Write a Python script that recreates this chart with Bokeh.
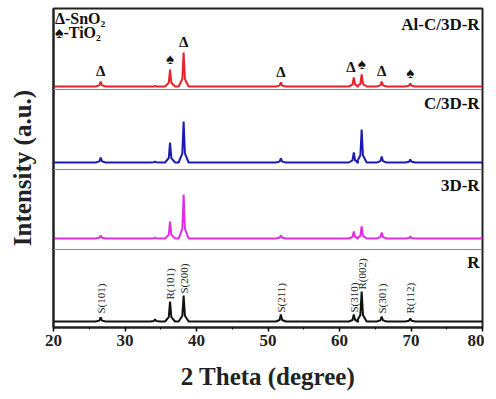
import numpy as np
from bokeh.plotting import figure
from bokeh.models import ColumnDataSource, FixedTicker, Range1d, Span
from bokeh.core.properties import value
from bokeh.embed import file_html
from bokeh.resources import INLINE

# ---- data (peak positions in 2-theta, peak heights in a.u.) ----
two_theta = [26.6, 34.2, 36.3, 38.2, 51.8, 62.0, 63.1, 65.9, 69.9]
int_al_c = [5, 0.5, 17, 34, 4, 9, 12, 5, 3]
int_c = [5, 1, 20, 41, 4, 10, 33, 6, 3]
int_3d = [3, 1, 17, 44, 3, 7, 12, 6, 2]
int_r = [4, 2, 20, 26, 7, 7, 30, 5, 3]
series_names = ["Al-C/3D-R", "C/3D-R", "3D-R", "R"]
r_hkl = ["S(101)", "", "R(101)", "S(200)", "S(211)", "S(310)", "R(002)", "S(301)", "R(112)"]
marker_theta = [26.6, 36.3, 38.2, 51.8, 61.6, 63.1, 65.9, 69.9]
marker_peak = [0, 2, 3, 4, 5, 6, 7, 8]
marker_sym = ["Δ", "♠", "Δ", "Δ", "Δ", "♠", "Δ", "♠"]
x_ticks = [20, 30, 40, 50, 60, 70, 80]

# ---- layout constants ----
offsets = [241, 165, 89, 6]
separators = [238, 158, 78]
name_y = [303, 224, 142, 65]
colors = ["#e8232b", "#1c1cb0", "#e02ee0", "#111111"]
FONT = value("Liberation Serif")

p = figure(frame_width=429, frame_height=319, output_backend="svg", toolbar_location=None,
           x_range=Range1d(20, 80), y_range=Range1d(0, 319),
           min_border_left=53, min_border_top=8, min_border_right=2, min_border_bottom=56)
p.grid.visible = False
p.outline_line_color = "#222222"
p.outline_line_width = 2
p.background_fill_color = "white"
p.border_fill_color = "white"


def profile(heights, base):
    xs, ys = [20.0], [base]
    for t, h in zip(two_theta, heights):
        xs += [t - 0.7, t - 0.18, t, t + 0.18, t + 0.7]
        ys += [base, base + 0.22 * h, base + h, base + 0.22 * h, base]
    xs.append(80.0)
    ys.append(base)
    return xs, ys


for heights, base, c in zip([int_al_c, int_c, int_3d, int_r], offsets, colors):
    xs, ys = profile(heights, base)
    p.line(xs, ys, line_color=c, line_width=2)

for s in separators:
    p.add_layout(Span(location=s, dimension="width", line_color="#8a8a8a", line_width=1))

# sample names
p.text(x=[79.6] * 4, y=name_y, text=series_names, text_align="right", text_baseline="middle",
       text_font=FONT, text_font_style="bold", text_font_size="17px", text_color="#111111")

# phase legend
p.text(x=[20.2, 20.2], y=[309, 295], text=["Δ-SnO₂", "♠-TiO₂"], text_align="left",
       text_baseline="middle", text_font=FONT, text_font_style="bold", text_font_size="16px",
       text_color="#111111")

# markers over Al-C/3D-R peaks
my = [offsets[0] + int_al_c[i] + 3 for i in marker_peak]
p.text(x=marker_theta, y=my, text=marker_sym, text_align="center", text_baseline="bottom",
       text_font=FONT, text_font_style="bold", text_font_size="15px", text_color="#111111")

# hkl labels over R peaks
lx, ly, lt = [], [], []
for t, h, lab in zip(two_theta, int_r, r_hkl):
    if lab:
        lx.append(t)
        ly.append(offsets[3] + max(h, 6) + 2)
        lt.append(lab)
p.text(x=lx, y=ly, text=lt, angle=np.pi / 2, text_align="left", text_baseline="middle",
       text_font=FONT, text_font_size="11px", text_color="#222222")

# axes
p.xaxis.ticker = FixedTicker(ticks=x_ticks, minor_ticks=[25, 35, 45, 55, 65, 75])
p.xaxis.axis_label = "2 Theta (degree)"
p.xaxis.axis_label_text_font = "Liberation Serif"
p.xaxis.axis_label_text_font_style = "bold"
p.xaxis.axis_label_text_font_size = "25px"
p.xaxis.axis_label_text_color = "#222222"
p.xaxis.axis_label_standoff = 14
p.xaxis.major_label_text_font = "Liberation Serif"
p.xaxis.major_label_text_font_style = "bold"
p.xaxis.major_label_text_font_size = "17px"
p.xaxis.major_label_text_color = "#222222"
p.xaxis.major_label_standoff = 3
p.xaxis.major_tick_in = 0
p.xaxis.major_tick_out = 4
p.xaxis.minor_tick_in = 0
p.xaxis.minor_tick_out = 2
p.xaxis.axis_line_color = "#222222"
p.xaxis.axis_line_width = 2
p.xaxis.major_tick_line_width = 1.5

p.yaxis.ticker = FixedTicker(ticks=[])
p.yaxis.major_label_text_font_size = "0px"
p.yaxis.major_tick_line_color = None
p.yaxis.minor_tick_line_color = None
p.yaxis.axis_line_color = "#222222"
p.yaxis.axis_line_width = 2
p.yaxis.axis_label = "Intensity (a.u.)"
p.yaxis.axis_label_text_font = "Liberation Serif"
p.yaxis.axis_label_text_font_style = "bold"
p.yaxis.axis_label_text_font_size = "25px"
p.yaxis.axis_label_text_color = "#222222"
p.yaxis.axis_label_standoff = 18

open("out.html", "w").write(file_html(p, INLINE))
